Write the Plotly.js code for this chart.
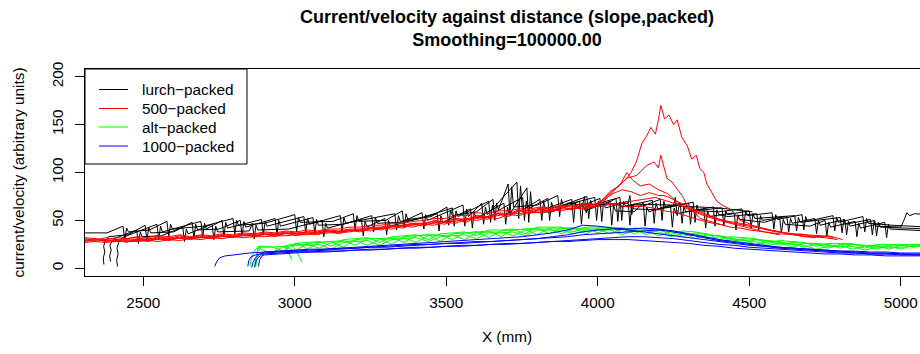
<!DOCTYPE html>
<html>
<head>
<meta charset="utf-8">
<script src="https://cdn.plot.ly/plotly-3.0.1.min.js"></script>
<style>
html, body { margin: 0; padding: 0; overflow: hidden; background: #fff; }
#chart { width: 929px; height: 354px; }
</style>
</head>
<body>
<div id="chart"></div>
<script>
// ---------------- lurch-packed (black) ----------------
const lurch1X = [2308, 2380,
  2433, 2439, 2445, 2451, 2520,
  2578, 2584, 2590, 2596, 2700,
  2796, 2802, 2808, 2814, 2900,
  3000, 3006, 3012, 3018, 3126,
  3193, 3199, 3205, 3211, 3300,
  3355, 3361, 3367, 3373, 3450,
  3502, 3508, 3514, 3520, 3600,
  3654, 3660, 3666, 3672,
  3704, 3710, 3716, 3722, 3800,
  3868, 3874, 3880, 3886,
  3964, 3970, 3976, 3982,
  4073, 4079, 4085, 4091, 4150,
  4206, 4212, 4218, 4224,
  4315, 4321, 4327, 4333, 4400,
  4476, 4482, 4488, 4494,
  4575, 4581, 4587, 4593,
  4674, 4680, 4686, 4692,
  4776, 4782, 4788, 4794,
  4875, 4881, 4887, 4893,
  4970, 5093];
const lurch1Y = [37, 37,
  44, 30, 42, 38, 40,
  49, 33, 46, 41, 44,
  52, 36, 50, 45, 47,
  56, 38, 53, 48, 49,
  57, 40, 55, 49, 50,
  60, 42, 57, 51, 54,
  64, 45, 61, 55, 59,
  72, 50, 68, 61,
  88, 55, 85, 64, 66,
  76, 54, 72, 66,
  75, 52, 71, 66,
  74, 50, 70, 65, 65,
  72, 50, 70, 63,
  69, 48, 66, 60, 59,
  62, 44, 60, 55,
  58, 41, 56, 51,
  56, 40, 54, 49,
  55, 39, 53, 48,
  54, 38, 52, 47,
  45, 43];

const lurch2X = [2370, 2368, 2373, 2369, 2375, 2385, 2450,
  2506, 2512, 2518, 2524, 2600,
  2661, 2667, 2673, 2679, 2750,
  2820, 2826, 2832, 2838,
  2935, 2941, 2947, 2953,
  3060, 3066, 3072, 3078, 3160,
  3254, 3260, 3266, 3272, 3350,
  3420, 3426, 3432, 3438,
  3555, 3561, 3567, 3573,
  3617, 3623, 3629, 3635,
  3733, 3739, 3745, 3751,
  3809, 3815, 3821, 3827,
  3914, 3920, 3926, 3932,
  4007, 4013, 4019, 4025,
  4100, 4106, 4112, 4118, 4200,
  4272, 4278, 4284, 4290,
  4381, 4387, 4393, 4399, 4430,
  4525, 4531, 4537, 4543,
  4624, 4630, 4636, 4642,
  4716, 4722, 4728, 4734,
  4815, 4821, 4827, 4833,
  4914, 4920, 4926, 4932,
  5000, 5093];
const lurch2Y = [4, 11, 17, 23, 29, 33, 35,
  45, 29, 43, 37, 38,
  48, 31, 46, 40, 41,
  50, 34, 49, 43,
  52, 35, 50, 44,
  53, 36, 51, 45, 46,
  55, 38, 53, 47, 48,
  58, 41, 56, 50,
  66, 44, 62, 54,
  68, 46, 64, 56,
  90, 52, 86, 61,
  72, 50, 70, 62,
  72, 48, 68, 63,
  73, 49, 70, 63,
  70, 45, 67, 62, 61,
  68, 47, 65, 59,
  64, 44, 61, 56, 54,
  57, 40, 55, 50,
  54, 38, 52, 47,
  52, 36, 50, 45,
  51, 35, 49, 44,
  50, 34, 48, 43,
  42, 41];

const lurch3X = [2392, 2389, 2394, 2390, 2396, 2405,
  2478, 2484, 2490, 2496, 2560,
  2630, 2636, 2642, 2648,
  2727, 2733, 2739, 2745, 2850,
  2860, 2866, 2872, 2878, 2980,
  3090, 3096, 3102, 3108,
  3220, 3226, 3232, 3238,
  3297, 3303, 3309, 3315,
  3470, 3476, 3482, 3488,
  3580, 3586, 3592, 3598,
  3690, 3696, 3702, 3708,
  3766, 3772, 3778, 3784, 3850,
  3940, 3946, 3952, 3958,
  4040, 4046, 4052, 4058, 4120,
  4150, 4156, 4162, 4168,
  4240, 4246, 4252, 4258,
  4350, 4356, 4362, 4368,
  4450, 4456, 4462, 4468, 4550,
  4600, 4606, 4612, 4618, 4700,
  4750, 4756, 4762, 4768,
  4849, 4855, 4861, 4867,
  4947, 4953, 4959, 4965,
  5093];
const lurch3Y = [7, 13, 19, 24, 28, 31,
  40, 26, 38, 33, 34,
  43, 28, 41, 36,
  46, 30, 44, 38, 39,
  47, 31, 45, 40, 41,
  50, 33, 47, 42,
  51, 34, 49, 43,
  52, 35, 50, 44,
  57, 39, 55, 48,
  62, 42, 59, 52,
  68, 46, 64, 56,
  84, 48, 80, 58, 59,
  70, 46, 67, 60,
  70, 45, 66, 60, 59,
  68, 44, 64, 59,
  66, 43, 63, 57,
  62, 42, 60, 54,
  58, 40, 56, 51, 48,
  53, 37, 51, 46, 44,
  50, 34, 48, 43,
  49, 33, 47, 42,
  48, 32, 46, 41,
  39];

const lurch4X = [2415, 2412, 2417, 2413, 2419, 2430,
  2545, 2551, 2557, 2563,
  2690, 2696, 2702, 2708,
  2760, 2766, 2772, 2778,
  2890, 2896, 2902, 2908,
  3030, 3036, 3042, 3048,
  3150, 3156, 3162, 3168,
  3330, 3336, 3342, 3348, 3400,
  3520, 3526, 3532, 3538,
  3640, 3646, 3652, 3658,
  3752, 3758, 3764, 3770,
  3835, 3841, 3847, 3853,
  3990, 3996, 4002, 4008,
  4060, 4066, 4072, 4078,
  4180, 4186, 4192, 4198,
  4300, 4306, 4312, 4318,
  4410, 4416, 4422, 4428,
  4500, 4506, 4512, 4518,
  4650, 4656, 4662, 4668,
  4800, 4806, 4812, 4818,
  4900, 4906, 4912, 4918,
  5000, 5010, 5020, 5030, 5045, 5093];
const lurch4Y = [2, 9, 15, 21, 27, 32,
  46, 30, 44, 38,
  49, 32, 47, 41,
  50, 33, 48, 42,
  51, 35, 49, 44,
  54, 37, 52, 46,
  55, 38, 53, 47,
  57, 40, 55, 49, 51,
  63, 44, 60, 54,
  70, 48, 66, 58,
  74, 50, 70, 62,
  73, 50, 69, 63,
  74, 50, 70, 64,
  73, 49, 69, 64,
  71, 47, 68, 62,
  68, 46, 65, 60,
  63, 44, 60, 56,
  60, 42, 57, 52,
  55, 39, 53, 48,
  53, 37, 51, 46,
  51, 35, 49, 44,
  43, 50, 58, 55, 57, 56];

const lurch5X = [3900, 3950, 3956, 3962, 3968, 4100, 4106, 4112, 4118, 4250, 4256, 4262, 4268, 4400, 4510];
const lurch5Y = [68, 66, 75, 58, 66, 68, 76, 56, 67, 66, 74, 55, 65, 63, 59];

// ---------------- 500-packed (red) ----------------
const redLeftX = [2308, 2340, 2375, 2410, 2445, 2480, 2515, 2550, 2585, 2620,
  2655, 2690, 2725, 2760, 2795, 2830, 2865, 2900, 2935, 2970,
  3005, 3040, 3075, 3110, 3145, 3180, 3215, 3250, 3285, 3320,
  3355, 3390, 3425, 3460, 3495, 3530, 3565, 3600, 3635, 3670,
  3705, 3740, 3775, 3810, 3845, 3880, 3915, 3950, 3985];
const red1LeftY = [29, 31, 28, 30, 27, 31, 29, 32, 30, 33,
  30, 33, 31, 34, 32, 35, 33, 36, 33, 37,
  34, 37, 35, 39, 36, 40, 38, 42, 40, 44,
  42, 46, 44, 48, 46, 51, 48, 54, 51, 57,
  54, 60, 57, 62, 59, 64, 61, 66, 63];
const red1RightX = [4010, 4035, 4060, 4090, 4110, 4128, 4145, 4161, 4175, 4190,
  4200, 4208, 4220, 4235, 4250, 4262, 4277, 4295, 4310, 4325,
  4337, 4350, 4360, 4375, 4393, 4410, 4436, 4455, 4469, 4490,
  4515, 4540, 4558, 4590, 4620, 4650, 4667, 4700, 4730, 4760,
  4799, 4808];
const red1RightY = [70, 76, 84, 92, 100, 112, 130, 138, 147, 140,
  155, 170, 156, 160, 150, 155, 137, 128, 114, 118,
  104, 100, 88, 80, 70, 66, 62, 56, 50, 48,
  44, 42, 40, 38, 37, 35, 36, 34, 33, 34,
  31, 30];

const red2LeftY = [31, 29, 32, 30, 31, 32, 30, 33, 31, 34,
  32, 34, 33, 35, 34, 36, 35, 37, 36, 38,
  37, 38, 38, 40, 39, 41, 41, 43, 43, 45,
  45, 47, 47, 49, 49, 52, 51, 55, 54, 58,
  57, 61, 60, 63, 62, 65, 64, 67, 66];
const red2RightX = [4010, 4040, 4070, 4096, 4128, 4145, 4160, 4185, 4200, 4208,
  4228, 4245, 4261, 4280, 4294, 4315, 4337, 4370, 4400, 4436,
  4470, 4500, 4550, 4600, 4650, 4700, 4750, 4790];
const red2RightY = [70, 80, 86, 94, 97, 102, 107, 111, 105, 118,
  94, 90, 83, 75, 66, 60, 52, 49, 46, 43,
  42, 40, 38, 36, 35, 33, 32, 30];

const red3LeftY = [27, 28, 27, 28, 28, 28, 29, 28, 30, 29,
  31, 30, 32, 31, 33, 32, 33, 33, 34, 34,
  35, 35, 36, 37, 37, 38, 40, 39, 42, 41,
  44, 43, 46, 45, 48, 47, 51, 50, 53, 52,
  56, 55, 59, 58, 61, 60, 63, 62, 64];
const red3RightX = [4020, 4050, 4075, 4096, 4115, 4140, 4170, 4200, 4230, 4260,
  4290, 4320, 4350, 4390, 4430, 4470, 4520, 4570, 4620, 4680,
  4740, 4780];
const red3RightY = [70, 80, 88, 100, 92, 86, 88, 82, 78, 70,
  64, 60, 56, 52, 49, 47, 44, 40, 37, 35,
  34, 32];

const red4LeftY = [30, 28, 30, 29, 30, 29, 31, 30, 32, 31,
  32, 33, 32, 34, 33, 35, 34, 36, 35, 37,
  36, 38, 37, 39, 38, 40, 40, 42, 42, 44,
  44, 47, 46, 50, 48, 52, 50, 55, 53, 57,
  56, 60, 58, 62, 60, 64, 62, 66, 64];
const red4RightX = [4020, 4050, 4080, 4110, 4140, 4170, 4200, 4215, 4230, 4260,
  4290, 4330, 4370, 4410, 4450, 4500, 4560, 4620, 4680, 4720];
const red4RightY = [72, 78, 82, 80, 76, 79, 76, 76, 75, 70,
  66, 60, 55, 50, 47, 44, 40, 37, 33, 32];

const red5LeftY = [28, 30, 29, 28, 29, 30, 28, 31, 29, 32,
  31, 32, 32, 33, 33, 34, 34, 35, 35, 36,
  36, 36, 37, 38, 38, 39, 40, 41, 42, 43,
  45, 45, 47, 47, 49, 49, 52, 52, 54, 55,
  57, 57, 59, 60, 61, 62, 62, 63, 64];
const red5RightX = [4030, 4070, 4110, 4150, 4190, 4230, 4270, 4310, 4350, 4400, 4450, 4500, 4550, 4600];
const red5RightY = [66, 68, 70, 72, 74, 70, 66, 60, 55, 50, 46, 42, 38, 35];

const red6LeftY = [32, 31, 30, 32, 31, 33, 32, 34, 33, 35,
  33, 35, 34, 36, 35, 37, 36, 38, 37, 39,
  38, 40, 39, 41, 41, 43, 43, 45, 45, 47,
  47, 49, 50, 52, 52, 55, 55, 58, 57, 60,
  60, 62, 62, 64, 63, 66, 65, 68, 67];
const red6RightX = [4030, 4060, 4100, 4140, 4180, 4220, 4260, 4300, 4340, 4380, 4420];
const red6RightY = [68, 66, 64, 65, 63, 60, 58, 54, 50, 47, 45];

// ---------------- alt-packed (green) ----------------
const greenGridX = [2880, 2920, 2960, 3000, 3040, 3080, 3120, 3160, 3200, 3240,
  3280, 3320, 3360, 3400, 3440, 3480, 3520, 3560, 3600, 3640,
  3680, 3720, 3760, 3800, 3840, 3880, 3920, 3960, 4000, 4040,
  4080, 4120, 4160, 4200, 4240, 4280, 4320, 4360, 4400, 4440,
  4480, 4520, 4560, 4600, 4640, 4680, 4720, 4760, 4800, 4840,
  4880, 4920, 4960, 5000, 5040, 5093];
const green1StartX = [2852, 2856, 2862, 2870];
const green1StartY = [2, 9, 15, 20];
const green1Y = [22, 22, 23, 18, 26, 27, 28, 22, 30, 31,
  31, 25, 33, 34, 35, 28, 36, 37, 38, 32,
  39, 40, 41, 35, 42, 42, 42, 36, 42, 42,
  42, 36, 41, 40, 39, 33, 37, 35, 34, 28,
  31, 30, 29, 24, 27, 26, 26, 21, 25, 25,
  24, 20, 24, 24, 25, 25];
const green2StartX = [2866, 2869, 2873, 2878];
const green2StartY = [1, 8, 14, 19];
const green2Y = [21, 16, 22, 24, 25, 21, 27, 28, 29, 24,
  30, 31, 32, 27, 34, 34, 35, 30, 37, 38,
  38, 34, 40, 41, 41, 36, 41, 41, 41, 36,
  41, 40, 40, 34, 38, 37, 36, 31, 33, 31,
  30, 25, 28, 27, 26, 22, 25, 24, 24, 20,
  23, 23, 23, 20, 24, 24];
const green3StartX = [2872, 2874, 2876, 2878];
const green3StartY = [3, 10, 16, 21];
const green3Y = [23, 23, 18, 26, 27, 28, 23, 30, 31, 32,
  27, 33, 34, 35, 30, 36, 37, 38, 34, 40,
  40, 41, 36, 43, 43, 43, 38, 43, 43, 43,
  37, 42, 41, 41, 35, 39, 38, 36, 30, 33,
  32, 31, 26, 29, 28, 27, 23, 26, 26, 26,
  21, 25, 25, 25, 22, 26];
// these two begin further right (grid from 3040 on)
const green4StartX = [3024, 3012, 3000, 2990, 3010];
const green4StartY = [6, 14, 20, 24, 26];
const green4Y = [20, 27, 28, 29, 24, 31, 31, 32, 27, 34,
  35, 35, 30, 37, 38, 39, 33, 40, 41, 42,
  36, 42, 42, 42, 37, 42, 42, 41, 35, 40,
  39, 38, 31, 35, 34, 32, 26, 30, 29, 28,
  22, 26, 26, 25, 21, 25, 24, 24, 20, 24,
  25, 25];
const green5StartX = [2990, 2982, 2972, 2965, 2985];
const green5StartY = [9, 15, 20, 23, 25];
const green5Y = [24, 25, 20, 27, 28, 29, 24, 30, 31, 32,
  28, 33, 34, 35, 31, 37, 37, 38, 34, 40,
  40, 40, 36, 40, 40, 40, 35, 39, 39, 38,
  33, 36, 35, 33, 28, 30, 29, 28, 24, 26,
  25, 24, 20, 23, 23, 23, 19, 22, 22, 22,
  23, 23];

// ---------------- 1000-packed (blue) ----------------
const blueGridX = [2900, 2950, 3000, 3050, 3100, 3150, 3200, 3250, 3300, 3350,
  3400, 3450, 3500, 3550, 3600, 3650, 3700, 3750, 3800, 3850,
  3900, 3950, 4000, 4050, 4100, 4150, 4200, 4250, 4300, 4350,
  4400, 4450, 4500, 4550, 4600, 4650, 4700, 4750, 4800, 4850,
  4900, 4950, 5000, 5050, 5093];
const blue1StartX = [2736, 2742, 2752, 2770, 2800, 2850];
const blue1StartY = [2, 7, 11, 13, 14, 16];
const blue1Y = [17, 18, 19, 20, 20, 21, 22, 23, 24, 25,
  26, 27, 28, 29, 30, 31, 32, 33, 35, 37,
  40, 45, 44, 42, 41, 42, 41, 39, 36, 33,
  30, 28, 26, 24, 22, 21, 20, 19, 18, 18,
  17, 17, 16, 16, 16];
const blue2StartX = [2845, 2848, 2855, 2870];
const blue2StartY = [2, 8, 12, 14];
const blue2Y = [16, 17, 18, 18, 19, 20, 21, 22, 22, 23,
  24, 25, 26, 26, 27, 28, 29, 30, 31, 32,
  33, 35, 36, 37, 38, 39, 40, 38, 35, 32,
  29, 27, 25, 23, 21, 20, 19, 18, 17, 16,
  15, 15, 14, 14, 14];
const blue3StartX = [2868, 2871, 2878, 2890];
const blue3StartY = [1, 7, 11, 14];
const blue3Y = [15, 16, 17, 17, 18, 18, 19, 20, 20, 21,
  22, 22, 23, 24, 24, 25, 26, 26, 27, 28,
  28, 29, 30, 30, 30, 29, 28, 27, 26, 24,
  23, 21, 20, 19, 18, 17, 16, 15, 15, 14,
  14, 13, 13, 13, 13];
const blue4StartX = [2880, 2884, 2892];
const blue4StartY = [2, 9, 13];
const blue4Y = [14, 15, 16, 17, 17, 18, 19, 19, 20, 21,
  21, 22, 23, 23, 24, 25, 25, 26, 27, 28,
  29, 30, 31, 32, 33, 33, 32, 31, 29, 27,
  25, 24, 22, 21, 20, 19, 18, 17, 16, 16,
  15, 15, 15, 14, 14];
const blue5StartX = [2858, 2862, 2870, 2885];
const blue5StartY = [1, 6, 11, 15];
const blue5Y = [17, 18, 18, 19, 20, 21, 21, 22, 23, 24,
  25, 25, 26, 27, 28, 28, 29, 30, 31, 33,
  35, 38, 40, 41, 40, 38, 36, 34, 32, 30,
  28, 26, 24, 23, 22, 21, 20, 19, 18, 17,
  16, 16, 15, 15, 15];

// ---------------- labels ----------------
const groupNames = ['lurch\u2212packed', '500\u2212packed', 'alt\u2212packed', '1000\u2212packed'];
const groupColors = ['#000000', '#ff0000', '#00ff00', '#0000ff'];
const xTicks = [2500, 3000, 3500, 4000, 4500, 5000];
const yTicks = [0, 50, 100, 150, 200];

// ---------------- build traces ----------------
const FONT = 'Liberation Sans, Arial, sans-serif';
const traces = [];
function addTrace(g, x, y) {
  traces.push({
    type: 'scatter', mode: 'lines', x: x, y: y,
    name: groupNames[g], legendgroup: 'g' + g, showlegend: false,
    line: { color: groupColors[g], width: 1 },
    hoverinfo: 'skip'
  });
}
addTrace(0, lurch1X, lurch1Y);
addTrace(0, lurch2X, lurch2Y);
addTrace(0, lurch3X, lurch3Y);
addTrace(0, lurch4X, lurch4Y);
addTrace(0, lurch5X, lurch5Y);

addTrace(1, redLeftX.concat(red1RightX), red1LeftY.concat(red1RightY));
addTrace(1, redLeftX.concat(red2RightX), red2LeftY.concat(red2RightY));
addTrace(1, redLeftX.concat(red3RightX), red3LeftY.concat(red3RightY));
addTrace(1, redLeftX.concat(red4RightX), red4LeftY.concat(red4RightY));
addTrace(1, redLeftX.concat(red5RightX), red5LeftY.concat(red5RightY));
addTrace(1, redLeftX.concat(red6RightX), red6LeftY.concat(red6RightY));

addTrace(2, green1StartX.concat(greenGridX), green1StartY.concat(green1Y));
addTrace(2, green2StartX.concat(greenGridX), green2StartY.concat(green2Y));
addTrace(2, green3StartX.concat(greenGridX), green3StartY.concat(green3Y));
addTrace(2, green4StartX.concat(greenGridX.slice(4)), green4StartY.concat(green4Y));
addTrace(2, green5StartX.concat(greenGridX.slice(4)), green5StartY.concat(green5Y));

addTrace(3, blue1StartX.concat(blueGridX), blue1StartY.concat(blue1Y));
addTrace(3, blue2StartX.concat(blueGridX), blue2StartY.concat(blue2Y));
addTrace(3, blue3StartX.concat(blueGridX), blue3StartY.concat(blue3Y));
addTrace(3, blue4StartX.concat(blueGridX), blue4StartY.concat(blue4Y));
addTrace(3, blue5StartX.concat(blueGridX), blue5StartY.concat(blue5Y));

// ---------------- legend box (R style, top-left of plot) ----------------
const PLOT_L = 85, PLOT_R = 929, PLOT_T = 69, PLOT_B = 276;
const px2fx = p => (p - PLOT_L) / (PLOT_R - PLOT_L);
const py2fy = p => (PLOT_B - p) / (PLOT_B - PLOT_T);
const legendRowsPx = [89.5, 108.5, 127, 146];
const shapes = [{
  type: 'rect', xref: 'paper', yref: 'paper', layer: 'above',
  x0: px2fx(85), x1: px2fx(247), y0: py2fy(164), y1: py2fy(69),
  line: { color: '#000000', width: 1 }, fillcolor: '#ffffff'
}];
const annotations = [];
groupNames.forEach((nm, i) => {
  shapes.push({
    type: 'line', xref: 'paper', yref: 'paper', layer: 'above',
    x0: px2fx(99), x1: px2fx(128), y0: py2fy(legendRowsPx[i]), y1: py2fy(legendRowsPx[i]),
    line: { color: groupColors[i], width: 1 }
  });
  annotations.push({
    text: nm, showarrow: false, xref: 'paper', yref: 'paper',
    x: px2fx(141), y: py2fy(legendRowsPx[i]), xanchor: 'left', yanchor: 'middle',
    font: { family: FONT, size: 15.3, color: '#000000' }, borderpad: 0
  });
});

const layout = {
  width: 929, height: 354,
  margin: { l: PLOT_L, r: 0, t: PLOT_T, b: 354 - PLOT_B, pad: 0 },
  paper_bgcolor: '#ffffff', plot_bgcolor: '#ffffff',
  font: { family: FONT, size: 15.3, color: '#000000' },
  showlegend: false,
  title: {
    text: '<b>Current/velocity against distance (slope,packed)</b><br><b>Smoothing=100000.00</b>',
    font: { family: FONT, size: 18, color: '#000000' },
    x: 0.5, xref: 'paper', xanchor: 'center',
    y: 0.936, yref: 'container', yanchor: 'top'
  },
  xaxis: {
    range: [2307.6, 5093],
    tickmode: 'array', tickvals: xTicks, ticktext: xTicks.map(String),
    ticks: 'outside', ticklen: 9, tickwidth: 1, tickcolor: '#000000',
    showline: true, linecolor: '#000000', linewidth: 1, mirror: true,
    showgrid: false, zeroline: false,
    tickfont: { family: FONT, size: 15.3, color: '#000000' },
    ticklabelstandoff: 4,
    title: { text: 'X (mm)', font: { family: FONT, size: 15.3, color: '#000000' }, standoff: 20 }
  },
  yaxis: {
    range: [-8, 208],
    tickmode: 'array', tickvals: yTicks, ticktext: yTicks.map(String),
    ticks: 'outside', ticklen: 9, tickwidth: 1, tickcolor: '#000000',
    tickangle: -90,
    showline: true, linecolor: '#000000', linewidth: 1, mirror: false,
    showgrid: false, zeroline: false,
    tickfont: { family: FONT, size: 15.3, color: '#000000' },
    ticklabelstandoff: 6,
    title: { text: 'current/velocity (arbitrary units)', font: { family: FONT, size: 15.3, color: '#000000' }, standoff: 20 }
  },
  shapes: shapes,
  annotations: annotations
};

Plotly.newPlot('chart', traces, layout, { displayModeBar: false, staticPlot: true });
</script>
</body>
</html>
